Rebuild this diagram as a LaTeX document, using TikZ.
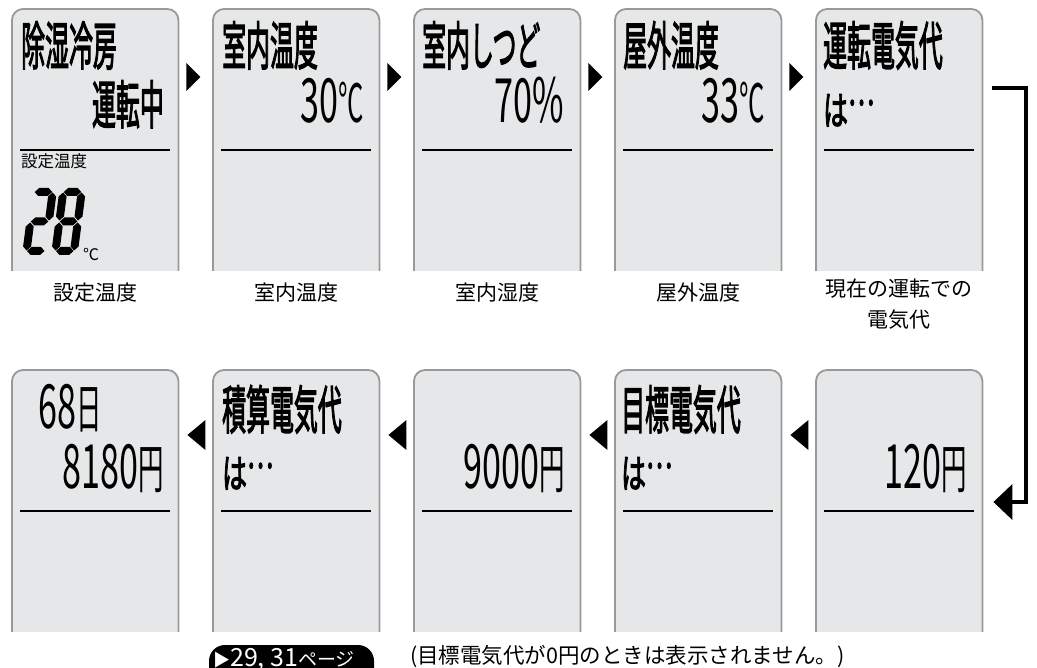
\documentclass[tikz,border=0pt]{standalone}
\usepackage{fontspec}
\usepackage{graphicx}
\usetikzlibrary{arrows.meta,calc}
\newfontfamily\jp{Noto Sans CJK JP}
\newfontfamily\jpb[FakeBold=3]{Noto Sans CJK JP}
\definecolor{lcdbg}{HTML}{E6E7E8}
\definecolor{rim}{HTML}{999999}
\newcommand\lcdhd[1]{\scalebox{0.46}[1]{\fontsize{52}{52}\selectfont\jpb #1}}
\newcommand\lcdha[1]{\scalebox{0.62}[1]{\fontsize{40}{40}\selectfont\jpb #1}}
\newcommand\lcdwa{\lcdha{は\raisebox{20pt}{…}}}
\newcommand\lcdnum[1]{\scalebox{0.56}[1]{\fontsize{61}{61}\selectfont\jp #1}}
\newcommand\lcdkan[1]{\scalebox{0.48}[1]{\fontsize{53}{53}\selectfont\jp #1}}
\newcommand\lcdpanel[3]{%
  \node[inner sep=0, minimum width=166pt, minimum height=261pt, anchor=north west] (#1) at (#2,#3) {};
  \begin{scope}
    \clip ($(#1.north west)+(-3,-3)$) rectangle ($(#1.south east)+(3,0)$);
    \draw[rim, fill=lcdbg, line width=1.8pt, rounded corners=11pt] (#1.north west) rectangle ($(#1.south east)+(0,20)$);
  \end{scope}
  \draw[line width=1.5pt] ($(#1.north west)+(8,141)$) -- ($(#1.north east)+(-8,141)$);
}
\newcommand\rtri[1]{\fill ($(#1.north east)+(8,54)$) -- ++(14,14) -- ++(-14,14) -- cycle;}
\newcommand\ltri[1]{\fill ($(#1.north east)+(9,65)$) -- ++(18,-15) -- ++(0,30) -- cycle;}
\newcommand\hseg[3]{\fill (#1,-#3) -- (#1+4,-#3-4) -- (#2-4,-#3-4) -- (#2,-#3) -- (#2-4,-#3+4) -- (#1+4,-#3+4) -- cycle;}
\newcommand\vseg[3]{\fill (#1,-#2) -- (#1+4,-#2-4) -- (#1+4,-#3+4) -- (#1,-#3) -- (#1-4,-#3+4) -- (#1-4,-#2-4) -- cycle;}
\begin{document}
\begin{tikzpicture}[x=1pt,y=-1pt,
  tx/.style={inner sep=0},
  lbl/.style={inner sep=0, anchor=base, font={\fontsize{21}{21}\selectfont\jp}}]
\useasboundingbox (0,0) rectangle (1037,668);
% panels
\lcdpanel{p1}{12}{9}
\lcdpanel{p2}{213}{9}
\lcdpanel{p3}{414}{9}
\lcdpanel{p4}{615}{9}
\lcdpanel{p5}{816}{9}
\lcdpanel{q1}{12}{370}
\lcdpanel{q2}{213}{370}
\lcdpanel{q3}{414}{370}
\lcdpanel{q4}{615}{370}
\lcdpanel{q5}{816}{370}
% step triangles
\rtri{p1}\rtri{p2}\rtri{p3}\rtri{p4}
\ltri{q1}\ltri{q2}\ltri{q3}\ltri{q4}
% connector row1 -> row2
\coordinate (k1) at ($(p5.north east)+(10,79)$);
\coordinate (k2) at ($(p5.north east)+(44,79)$);
\coordinate (k3) at ($(q5.north east)+(11,132)$);
\draw[line width=4pt, line join=miter, -{Triangle[length=19pt,width=35pt]}] (k1) -- (k2) |- (k3);
% row 1 texts
\node[tx, anchor=base west] (t1a) at (21,65) {\lcdhd{除湿冷房}};
\node[tx, anchor=base east] (t1b) at (164,124) {\lcdhd{運転中}};
\node[tx, anchor=base west] (t1c) at (21,168) {\fontsize{16.5}{16.5}\selectfont\jp 設定温度};
\begin{scope}[shift={(22,255)}, xslant=0.13]
  \hseg{4.5}{22}{63}\hseg{4.5}{22}{33.5}\hseg{4.5}{22}{4}
  \vseg{22.5}{34.5}{62.5}\vseg{4}{4.5}{32.5}
  \hseg{33.5}{51}{63}\hseg{33.5}{51}{33.5}\hseg{33.5}{51}{4}
  \vseg{33}{34.5}{62.5}\vseg{51.5}{34.5}{62.5}\vseg{33}{4.5}{32.5}\vseg{51.5}{4.5}{32.5}
\end{scope}
\node[tx, anchor=base west] (t1d) at (83,261) {\fontsize{16}{16}\selectfont\jp ℃};
\node[tx, anchor=base west] (t2a) at (222,65) {\lcdhd{室内温度}};
\node[tx, anchor=base east] (t2b) at (364,123) {\lcdnum{30}\lcdkan{℃}};
\node[tx, anchor=base west] (t3a) at (422,65) {\lcdhd{室内しつど}};
\node[tx, anchor=base east] (t3b) at (564,123) {\lcdnum{70\%}};
\node[tx, anchor=base west] (t4a) at (623,65) {\lcdhd{屋外温度}};
\node[tx, anchor=base east] (t4b) at (765,123) {\lcdnum{33}\lcdkan{℃}};
\node[tx, anchor=base west] (t5a) at (823,65) {\lcdhd{運転電気代}};
\node[tx, anchor=base west] (t5b) at (823,125) {\lcdwa};
% row 2 texts
\node[tx, anchor=base west] (u1a) at (38,429) {\lcdnum{68}\lcdkan{日}};
\node[tx, anchor=base east] (u1b) at (164,488) {\lcdnum{8180}\lcdkan{円}};
\node[tx, anchor=base west] (u2a) at (222,429) {\lcdhd{積算電気代}};
\node[tx, anchor=base west] (u2b) at (222,488) {\lcdwa};
\node[tx, anchor=base east] (u3b) at (565,488) {\lcdnum{9000}\lcdkan{円}};
\node[tx, anchor=base west] (u4a) at (621,429) {\lcdhd{目標電気代}};
\node[tx, anchor=base west] (u4b) at (621,488) {\lcdwa};
\node[tx, anchor=base east] (u5b) at (967,488) {\lcdnum{120}\lcdkan{円}};
% captions
\node[lbl] (l1) at ($(p1.south)+(0,30)$) {設定温度};
\node[lbl] (l2) at ($(p2.south)+(0,30)$) {室内温度};
\node[lbl] (l3) at ($(p3.south)+(0,30)$) {室内湿度};
\node[lbl] (l4) at ($(p4.south)+(0,30)$) {屋外温度};
\node[lbl] (l5) at ($(p5.south)+(0,26)$) {現在の運転での};
\node[lbl] (l6) at ($(p5.south)+(0,57)$) {電気代};
% bottom
\fill[rounded corners=16pt] (209,645) rectangle (374,700);
\node[tx, anchor=base west, text=white] (pg) at (213,666) {{\fontsize{17}{17}\selectfont\jp ▶}{\fontsize{25}{25}\selectfont\jp 29, 31}{\fontsize{19}{19}\selectfont\jp ページ}};
\node[tx, anchor=base west] (note) at (410,663) {\fontsize{21.5}{21.5}\selectfont\jp (目標電気代が0円のときは表示されません。)};
\end{tikzpicture}
\end{document}
